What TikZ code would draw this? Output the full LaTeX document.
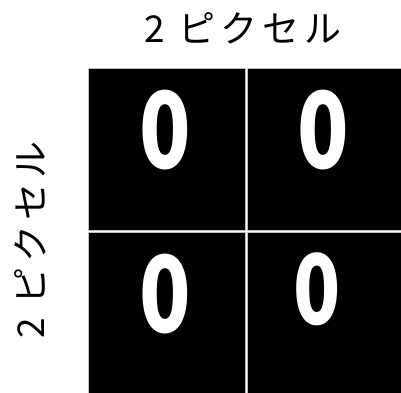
\documentclass[tikz,border=0pt]{standalone}
\usepackage{fontspec}
\setmainfont{Liberation Sans}
\newfontfamily\jpfont[LetterSpace=14]{Noto Sans CJK JP}
\newfontfamily\valfont{Noto Sans CJK JP}
\usetikzlibrary{positioning}
\newcommand{\narrowzero}{\scalebox{0.8}[1]{0}}

\begin{document}
\begin{tikzpicture}[x=1pt, y=-1pt,
    pixcell/.style={draw=black!25, fill=black, line width=0.6pt, minimum width=157pt, minimum height=162pt, inner sep=0pt},
    pixval/.style={text=white, font=\valfont\bfseries\fontsize{106}{106}\selectfont, inner sep=0pt},
    sizelab/.style={font=\jpfont\fontsize{37}{37}\selectfont, inner sep=0pt},
  ]
  \useasboundingbox (0,0) rectangle (401,392);
  \clip (0,0) rectangle (401,392);
  % the 2x2 pixel grid
  \node[pixcell] (c11) at (166.5,149) {};
  \node[pixcell] (c12) at (325.5,149) {};
  \node[pixcell] (c21) at (166.5,313) {};
  \node[pixcell] (c22) at (325.5,313) {};
  % pixel values
  \node[pixval] (v11) at (165,130) {\narrowzero};
  \node[pixval] (v12) at (323.5,130) {\narrowzero};
  \node[pixval] (v21) at (165,294.5) {\narrowzero};
  \node[pixval, font=\valfont\bfseries\fontsize{97}{97}\selectfont] (v22) at (317.5,289) {\narrowzero};
  % size labels
  \node[sizelab] (wlab) at (243,28) {2 ピクセル};
  \node[sizelab, rotate=90] (hlab) at (30,240) {2 ピクセル};
\end{tikzpicture}
\end{document}
